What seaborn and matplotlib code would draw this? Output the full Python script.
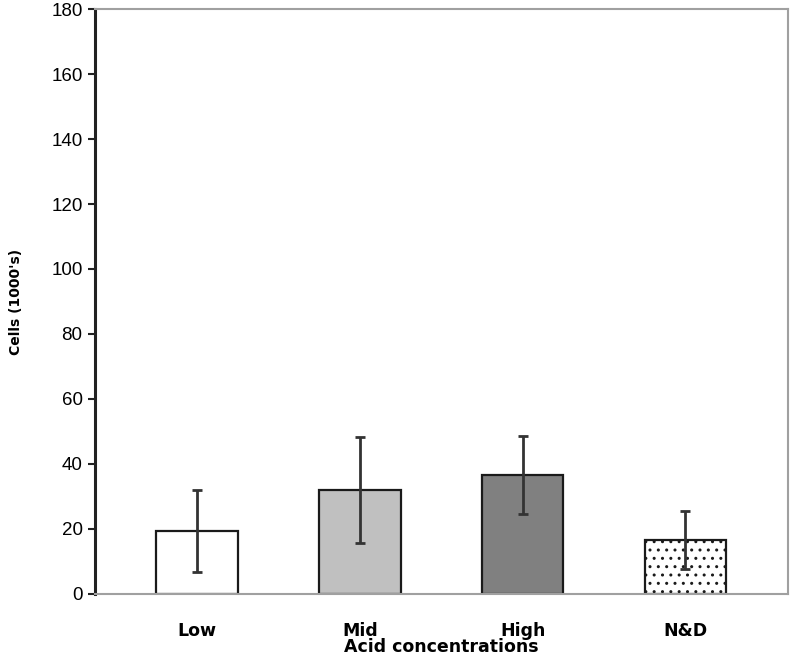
import matplotlib
matplotlib.use("Agg")
import matplotlib.pyplot as plt
import seaborn as sns
import numpy as np
import pandas as pd

categories = ["Low", "Mid", "High", "N&D"]
means = [19.4, 32.0, 36.7, 16.6]
errors = [12.5, 16.3, 12.0, 9.0]
bar_colors = ["#ffffff", "#c0c0c0", "#808080", "#ffffff"]
yticks = [0, 20, 40, 60, 80, 100, 120, 140, 160, 180]

sns.set_style("white")
plt.rcParams["font.family"] = ["Liberation Sans", "DejaVu Sans"]
plt.rcParams["hatch.linewidth"] = 1.0
plt.rcParams["hatch.color"] = "#333333"
plt.rcParams["text.color"] = "black"
plt.rcParams["axes.labelcolor"] = "black"
plt.rcParams["xtick.color"] = "black"
plt.rcParams["ytick.color"] = "black"

df = pd.DataFrame({"cat": categories, "val": means})

fig = plt.figure(figsize=(7.92, 6.58), dpi=100)
ax = fig.add_axes([0.12, 0.0973, 0.875, 0.889])

sns.barplot(data=df, x="cat", y="val", hue="cat", palette=bar_colors,
            legend=False, width=0.5, edgecolor="#1a1a1a", linewidth=1.6,
            errorbar=None, ax=ax)

patches = ax.patches
for p, c in zip(patches, categories):
    if c == "N&D":
        p.set_hatch("..")
xs = [p.get_x() + p.get_width() / 2 for p in patches]
ax.errorbar(xs, means, yerr=errors, fmt="none", ecolor="#333333",
            elinewidth=2, capsize=3.5, capthick=2)

ax.set_ylim(0, 180)
ax.set_xlim(-0.626, 3.63)
ax.set_yticks(yticks)
ax.set_yticklabels([str(t) for t in yticks], fontsize=13.5)
ax.tick_params(axis="y", left=True, length=5, width=1.5, color="#222222", pad=4)
ax.tick_params(axis="x", bottom=False, length=0, pad=20)
for lab in ax.get_xticklabels():
    lab.set_fontweight("bold")
    lab.set_fontsize(12.5)
    lab.set_family("DejaVu Sans")

ax.set_xlabel("Acid concentrations", fontsize=12.5, fontweight="bold",
              family="DejaVu Sans", labelpad=-1)
ax.set_ylabel("Cells (1000's)", fontsize=10, fontweight="bold",
              family="DejaVu Sans", labelpad=20)

for side in ["top", "right", "bottom"]:
    ax.spines[side].set_visible(True)
    ax.spines[side].set_color("#a0a0a0")
    ax.spines[side].set_linewidth(1.5)
ax.spines["left"].set_color("#222222")
ax.spines["left"].set_linewidth(2.2)

fig.savefig("out.png", dpi=100)
